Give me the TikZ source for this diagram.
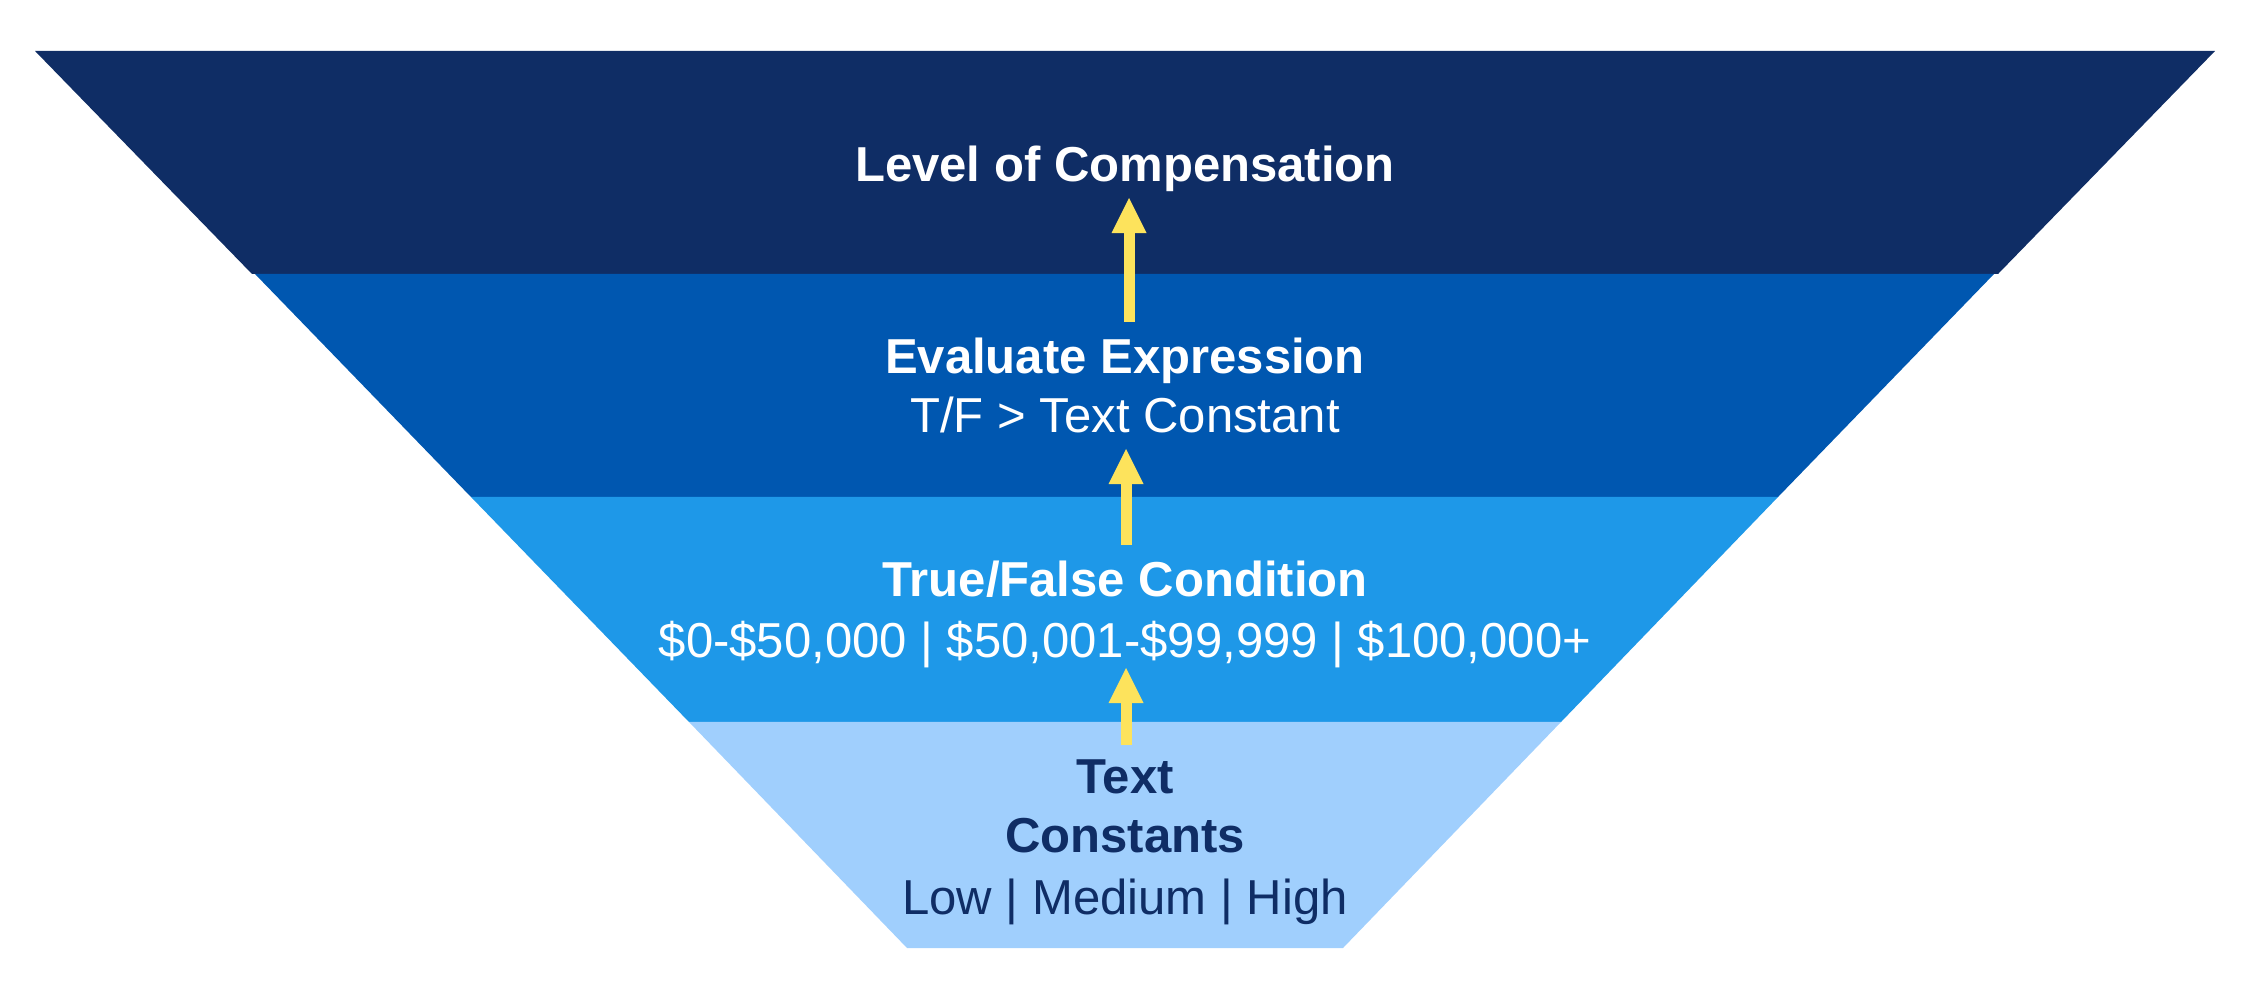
\documentclass[tikz,border=0pt]{standalone}
\usepackage{fontspec}
\setmainfont{Liberation Sans}
\usetikzlibrary{arrows.meta}

\definecolor{navy}{HTML}{0F2D65}
\definecolor{royal}{HTML}{0057B0}
\definecolor{sky}{HTML}{1E98E8}
\definecolor{pale}{HTML}{A0CFFD}
\definecolor{lemon}{HTML}{FDE35C}

\tikzset{
  lbl/.style={anchor=base, inner sep=0pt, font=\fontsize{13.95}{16}\selectfont},
  up/.style={lemon, line width=0.11cm, -{Triangle[length=0.35cm, width=0.35cm, line width=0pt]}}
}

\begin{document}
\begin{tikzpicture}[x=0.01cm, y=-0.01cm]
    \useasboundingbox (0,0) rectangle (2261,989);

    \fill[navy]  (35,51)   -- (2215,51)  -- (1998,274) -- (252,274) -- cycle;
    \fill[royal] (255,274) -- (1994,274) -- (1778,497) -- (471,497) -- cycle;
    \fill[sky]   (471,497) -- (1778,497) -- (1561,722) -- (689,722) -- cycle;
    \fill[pale]  (689,722) -- (1561,722) -- (1343,948) -- (907,948) -- cycle;

    \node[lbl, white] (level) at (1125,182) {\bfseries Level of Compensation};

    \node[lbl, white] (eval) at (1125,374) {\bfseries Evaluate Expression};
    \node[lbl, white] (evalsub) at (1125,433) {T/F > Text Constant};

    \node[lbl, white] (cond) at (1125,597) {\bfseries True/False Condition};
    \node[lbl, white] (condsub) at (1125,658) {\$0-\$50,000 | \$50,001-\$99,999 | \$100,000+};

    \node[lbl, navy] (const) at (1125,794) {\bfseries Text};
    \node[lbl, navy] (const2) at (1125,853) {\bfseries Constants};
    \node[lbl, navy] (constsub) at (1125,914) {Low | Medium | High};

    \coordinate (a1s) at (1129,322); \coordinate (a1e) at (1129,198);
    \coordinate (a2s) at (1126,545); \coordinate (a2e) at (1126,449);
    \coordinate (a3s) at (1126,745); \coordinate (a3e) at (1126,668);

    \draw[up] (a1s) -- (a1e);
    \draw[up] (a2s) -- (a2e);
    \draw[up] (a3s) -- (a3e);

\end{tikzpicture}
\end{document}
